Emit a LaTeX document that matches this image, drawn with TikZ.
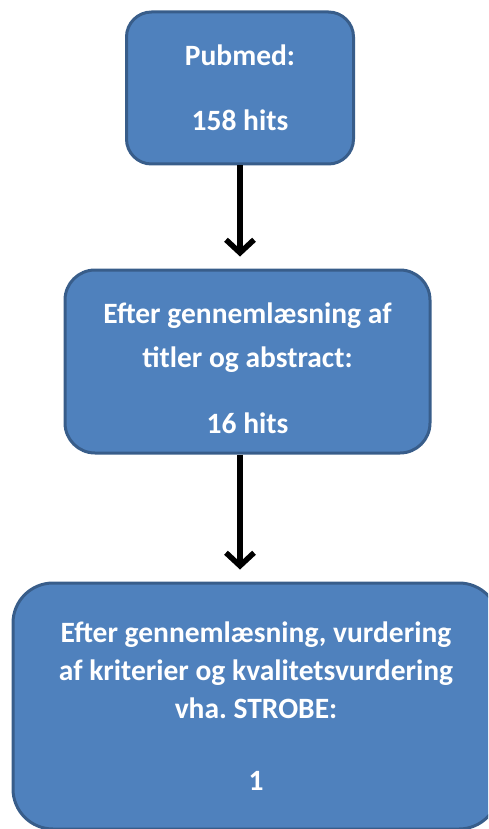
\documentclass[tikz,border=0pt]{standalone}
\usepackage{fontspec}
\setmainfont{Carlito}
\usetikzlibrary{arrows.meta}
\frenchspacing
\definecolor{white}{RGB}{255,255,255}
\definecolor{black}{RGB}{0,0,0}
\definecolor{box_blue}{RGB}{79,129,189}
\definecolor{edge_blue}{RGB}{56,93,138}

\begin{document}
\begin{tikzpicture}[x=1pt,y=-1pt,
	hitbox/.style={draw=edge_blue,fill=box_blue,line width=3pt,text=white,align=center,
		font=\fontsize{29.5}{38}\selectfont\bfseries,inner sep=0pt}]
	\useasboundingbox (0,0) rectangle (488,829);
	\clip (0,0) rectangle (488,829);
	\node[hitbox,minimum width=227,minimum height=152,rounded corners=25] (pubmed) at (240,88) {Pubmed:\\[27pt]158 hits};
	\node[hitbox,minimum width=365,minimum height=183,rounded corners=30] (screen) at (247.5,361.5) {\rule{0pt}{34pt}Efter gennemlæsning af\\[6pt]titler og abstract:\\[28pt]16 hits};
	\node[hitbox,minimum width=486,minimum height=246,rounded corners=40] (final) at (256,706) {Efter gennemlæsning, vurdering\\af kriterier og kvalitetsvurdering\\vha. STROBE:\\[34pt]1};
	
	\foreach \x/\y in {pubmed/screen,screen/final}
		\draw[black,-{Straight Barb[length=13pt,width=28pt]},line width=5.5pt,shorten >=12pt] (\x.south -| pubmed) -- (\y.north -| pubmed);
\end{tikzpicture}
\end{document}
